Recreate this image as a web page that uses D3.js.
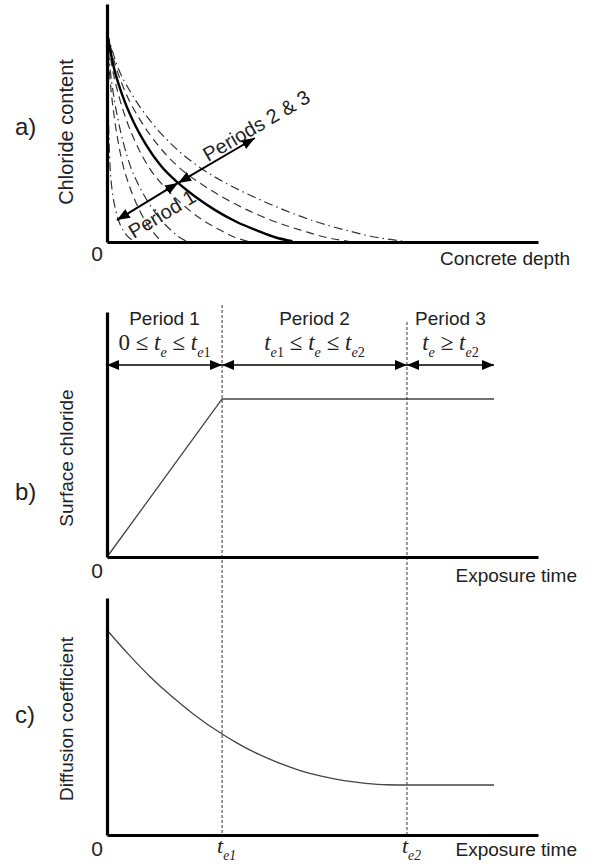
<!DOCTYPE html>
<html>
<head>
<meta charset="utf-8">
<script src="https://cdn.jsdelivr.net/npm/d3@7"></script>
<style>
  body { margin: 0; background: #fff; }
  svg { display: block; }
  text { font-family: "Liberation Sans", Arial, sans-serif; fill: #222; }
  .math { font-family: "Liberation Serif", "Times New Roman", serif; }
</style>
</head>
<body>
<div id="chart"></div>
<script>
// ---- panel a: chloride profiles (depth, content) ----
const contentLevels = [88, 74, 62, 51, 41, 32, 24.8, 19, 13.5, 8.5, 4.7, 2, 0.3];
const depthSolid = [0, 1.5, 3.5, 6, 9, 12.5, 16.5, 20.5, 25, 30, 35, 39, 43];
const depthInner1 = [0, 0.1, 0.2, 0.35, 0.5, 0.7, 1.0, 1.4, 2, 2.8, 3.8, 5, 6.5];
const depthInner2 = [0, 0.45, 1.05, 1.8, 2.7, 3.75, 4.95, 6.15, 7.5, 9, 10.5, 11.7, 12.9];
const depthInner3 = [0, 0.65, 1.5, 2.6, 3.9, 5.4, 7.1, 8.8, 10.75, 12.9, 15, 16.8, 18.5];
const depthInner4 = [0, 1.14, 2.66, 4.56, 6.84, 9.5, 12.5, 15.6, 19, 22.8, 26.6, 29.6, 32.7];
const depthOuter1 = [0, 2, 4.5, 7.8, 11.7, 16.3, 21.5, 26.7, 32.5, 39, 45.5, 50.7, 56];
const depthOuter2 = [0, 2.4, 5.8, 10, 15, 21, 27.5, 34, 41, 48.5, 56, 62.4, 68.8];
const profiles = [
  { depth: depthInner1, style: "dashdot" },
  { depth: depthInner2, style: "dash" },
  { depth: depthInner3, style: "dashdot" },
  { depth: depthInner4, style: "dash" },
  { depth: depthOuter1, style: "dash" },
  { depth: depthOuter2, style: "dashdot" },
  { depth: depthSolid, style: "solid" },
];
// arrows: [from, to] in (depth, content)
const arrowCross = [16.5, 24.8];
const arrowP1End = [2.3, 9.2];
const arrowP23End = [34.3, 43.7];

// ---- panels b and c: time axis ----
const te1 = 2.67, te2 = 6.96, tEnd = 8.98;
const surfaceTime = [0, te1, tEnd];
const surfaceValue = [0, 6.45, 6.45];
const diffTime = [0, 0.5, 1, 1.5, 2, 2.67, 3, 3.5, 4, 4.5, 5, 5.5, 6, 6.5, 6.96, 8.98];
const diffValue = [8.65, 7.62, 6.68, 5.85, 5.11, 4.26, 3.9, 3.42, 3.03, 2.71, 2.47, 2.29, 2.18, 2.12, 2.11, 2.11];
const periodNames = ["Period 1", "Period 2", "Period 3"];

const W = 593, H = 864;
const svg = d3.select("#chart").append("svg").attr("width", W).attr("height", H);

const defs = svg.append("defs");
function addMarker(id, len, wid) {
  defs.append("marker")
    .attr("id", id)
    .attr("markerUnits", "userSpaceOnUse")
    .attr("markerWidth", len).attr("markerHeight", wid)
    .attr("refX", len).attr("refY", wid / 2)
    .attr("orient", "auto-start-reverse")
    .append("path")
    .attr("d", `M0,0L${len},${wid / 2}L0,${wid}Z`)
    .attr("fill", "#000");
}
addMarker("headA", 13, 10);
addMarker("headB", 12, 10);

const xa = d3.scaleLinear().domain([0, 100]).range([107, 538]);
const ya = d3.scaleLinear().domain([0, 100]).range([242, 4]);
const xt = d3.scaleLinear().domain([0, 10]).range([107, 538]);
const yb = d3.scaleLinear().domain([0, 10]).range([557, 312]);
const yc = d3.scaleLinear().domain([0, 10]).range([835, 598]);

function frame(x, y) {
  const gy = svg.append("g").attr("transform", `translate(${x.range()[0]},0)`)
    .call(d3.axisLeft(y).tickValues([]).tickSizeOuter(0));
  const gx = svg.append("g").attr("transform", `translate(0,${y.range()[0]})`)
    .call(d3.axisBottom(x).tickValues([]).tickSizeOuter(0));
  [gx, gy].forEach(g => g.select(".domain").attr("stroke", "#000").attr("stroke-width", 3.2));
}

// ---------- a) ----------
const dashes = { dash: "8,5", dashdot: "9,4,1.5,4", solid: null };
const lineA = d3.line().x(d => xa(d[0])).y(d => ya(d[1])).curve(d3.curveMonotoneX);
svg.append("g").selectAll("path")
  .data(profiles)
  .join("path")
  .attr("d", p => lineA(p.depth.map((d, i) => [d, contentLevels[i]])))
  .attr("fill", "none")
  .attr("stroke", p => p.style === "solid" ? "#000" : "#333")
  .attr("stroke-width", p => p.style === "solid" ? 2.4 : 1.2)
  .attr("stroke-dasharray", p => dashes[p.style]);
frame(xa, ya);

function arrowA(from, to) {
  svg.append("line")
    .attr("x1", xa(from[0])).attr("y1", ya(from[1]))
    .attr("x2", xa(to[0])).attr("y2", ya(to[1]))
    .attr("stroke", "#000").attr("stroke-width", 2)
    .attr("marker-start", "url(#headA)").attr("marker-end", "url(#headA)");
}
arrowA(arrowP1End, arrowCross);
arrowA(arrowCross, arrowP23End);

function angleOf(from, to) {
  return Math.atan2(ya(to[1]) - ya(from[1]), xa(to[0]) - xa(from[0])) * 180 / Math.PI;
}
const mid1 = [(arrowP1End[0] + arrowCross[0]) / 2, (arrowP1End[1] + arrowCross[1]) / 2];
svg.append("text")
  .attr("transform", `translate(${xa(mid1[0])},${ya(mid1[1])}) rotate(${angleOf(arrowP1End, arrowCross)})`)
  .attr("x", 6).attr("y", 25)
  .attr("text-anchor", "middle")
  .style("font-size", "20px")
  .text("Period 1");
const mid2 = [(arrowCross[0] + arrowP23End[0]) / 2, (arrowCross[1] + arrowP23End[1]) / 2];
svg.append("text")
  .attr("transform", `translate(${xa(mid2[0])},${ya(mid2[1])}) rotate(${angleOf(arrowCross, arrowP23End)})`)
  .attr("x", -8).attr("y", -3)
  .style("font-size", "20px")
  .text("Periods 2 & 3");

// ---------- b) ----------
const lineB = d3.line().x(d => xt(d[0])).y(d => yb(d[1]));
svg.append("path")
  .attr("d", lineB(surfaceTime.map((t, i) => [t, surfaceValue[i]])))
  .attr("fill", "none").attr("stroke", "#444").attr("stroke-width", 1.3);

// vertical dashed markers
[[te1, 305], [te2, 322]].forEach(([t, top]) => {
  svg.append("line")
    .attr("x1", xt(t)).attr("x2", xt(t))
    .attr("y1", top).attr("y2", yc(0))
    .attr("stroke", "#333").attr("stroke-width", 1)
    .attr("stroke-dasharray", "3,2");
});
frame(xt, yb);

const bounds = [0, te1, te2, tEnd];
const arrowY = 365;
for (let i = 0; i < 3; i++) {
  svg.append("line")
    .attr("x1", xt(bounds[i])).attr("x2", xt(bounds[i + 1]))
    .attr("y1", arrowY).attr("y2", arrowY)
    .attr("stroke", "#000").attr("stroke-width", 1.6)
    .attr("marker-start", "url(#headB)").attr("marker-end", "url(#headB)");
  svg.append("text")
    .attr("x", xt((bounds[i] + bounds[i + 1]) / 2)).attr("y", 325)
    .attr("text-anchor", "middle")
    .style("font-size", "19px")
    .text(periodNames[i]);
}

// math labels: [text, kind] where kind: n normal, i italic, s subscript italic, u subscript upright
const mathLabels = [
  [["0 ≤ ", "n"], ["t", "i"], ["e", "s"], [" ≤ ", "n"], ["t", "i"], ["e", "s"], ["1", "u"]],
  [["t", "i"], ["e", "s"], ["1", "u"], [" ≤ ", "n"], ["t", "i"], ["e", "s"], [" ≤ ", "n"], ["t", "i"], ["e", "s"], ["2", "u"]],
  [["t", "i"], ["e", "s"], [" ≥ ", "n"], ["t", "i"], ["e", "s"], ["2", "u"]],
];
function mathText(parent, parts, x, y, anchor, size) {
  const t = parent.append("text").attr("class", "math")
    .attr("x", x).attr("y", y).attr("text-anchor", anchor)
    .style("font-size", size + "px");
  let sub = false;
  parts.forEach(([s, k]) => {
    const isSub = k === "s" || k === "u";
    const ts = t.append("tspan").text(s);
    if (isSub !== sub) ts.attr("dy", isSub ? size * 0.3 : -size * 0.3);
    if (isSub) ts.style("font-size", (size * 0.62) + "px");
    if (k === "i" || k === "s") ts.style("font-style", "italic");
    sub = isSub;
  });
  return t;
}
for (let i = 0; i < 3; i++) {
  mathText(svg, mathLabels[i], xt((bounds[i] + bounds[i + 1]) / 2), 350, "middle", 23);
}

// ---------- c) ----------
const lineC = d3.line().x(d => xt(d[0])).y(d => yc(d[1])).curve(d3.curveMonotoneX);
svg.append("path")
  .attr("d", lineC(diffTime.map((t, i) => [t, diffValue[i]])))
  .attr("fill", "none").attr("stroke", "#444").attr("stroke-width", 1.3);
frame(xt, yc);

mathText(svg, [["t", "i"], ["e1", "s"]], xt(te1) - 5, 853, "start", 22);
mathText(svg, [["t", "i"], ["e2", "s"]], xt(te2) - 5, 853, "start", 22);

// ---------- labels ----------
const labels = [
  { t: "a)", x: 15, y: 135, size: 24 },
  { t: "b)", x: 15, y: 500, size: 24 },
  { t: "c)", x: 15, y: 723, size: 24 },
  { t: "0", x: 97, y: 261, size: 21, anchor: "middle" },
  { t: "0", x: 97, y: 578, size: 21, anchor: "middle" },
  { t: "0", x: 97, y: 856, size: 21, anchor: "middle" },
  { t: "Concrete depth", x: 570, y: 265, size: 19, anchor: "end" },
  { t: "Exposure time", x: 577, y: 582, size: 19, anchor: "end" },
  { t: "Exposure time", x: 577, y: 856, size: 19, anchor: "end" },
];
svg.append("g").selectAll("text").data(labels).join("text")
  .attr("x", d => d.x).attr("y", d => d.y)
  .attr("text-anchor", d => d.anchor || "start")
  .style("font-size", d => d.size + "px")
  .text(d => d.t);

const yTitles = [
  { t: "Chloride content", cy: 132, size: 20 },
  { t: "Surface chloride", cy: 458, size: 19 },
  { t: "Diffusion coefficient", cy: 719, size: 19 },
];
svg.append("g").selectAll("text").data(yTitles).join("text")
  .attr("transform", d => `translate(73,${d.cy}) rotate(-90)`)
  .attr("text-anchor", "middle")
  .style("font-size", d => d.size + "px")
  .text(d => d.t);
</script>
</body>
</html>
